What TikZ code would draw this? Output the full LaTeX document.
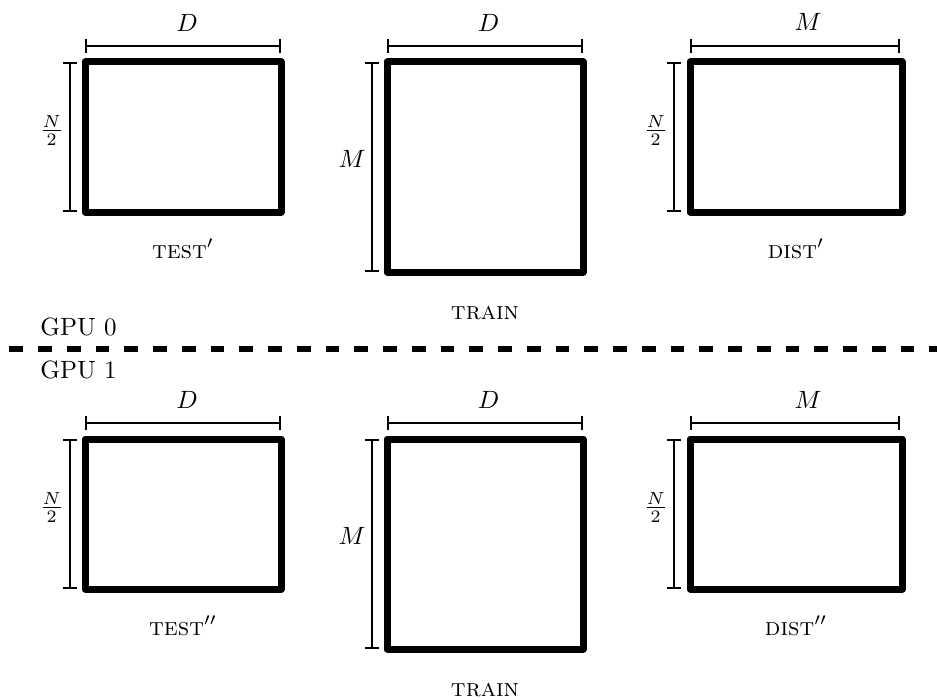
\documentclass[tikz,border=0pt]{standalone}
\usetikzlibrary{arrows.meta,calc}

\tikzset{
  matbox/.style={line width=2.8pt, line join=round},
  dimline/.style={line width=0.8pt, {Bar[width=5.6pt]}-{Bar[width=5.6pt]}},
  toplabel/.style={inner sep=0pt, anchor=base},
  sidelabel/.style={inner sep=0pt, anchor=base east},
  caption/.style={inner sep=0pt, anchor=base},
  gpulabel/.style={inner sep=0pt, anchor=base west},
  divider/.style={line width=2.4pt, dash pattern=on 5.5pt off 6pt},
}

\begin{document}
\begin{tikzpicture}[x=0.4pt,y=-0.4pt]
  \useasboundingbox (0,0) rectangle (937,699);

  % one row of matrices per GPU
  \foreach \r/\dy/\pr in {0/0/{\prime}, 1/377/{\prime\prime}}{
    \begin{scope}[shift={(0,\dy)}]
      % test block: N/2 x D
      \coordinate (test\r-nw) at (85,62);
      \coordinate (test\r-se) at (281,212);
      \draw[matbox] (test\r-nw) rectangle (test\r-se);
      \draw[dimline] ($(test\r-nw)+(0,-16)$) coordinate (test\r-ta)
                  -- ($(test\r-nw -| test\r-se)+(0,-16)$) coordinate (test\r-tb);
      \node[toplabel] (test\r-d) at ($($(test\r-ta)!0.5!(test\r-tb)$)+(4,-14.3)$) {$D$};
      \draw[dimline] ($(test\r-nw)+(-15,0)$) coordinate (test\r-la)
                  -- ($(test\r-nw |- test\r-se)+(-15,0)$) coordinate (test\r-lb);
      \node[sidelabel] (test\r-n) at ($($(test\r-la)!0.5!(test\r-lb)$)+(-6,0)$) {$\frac{N}{2}$};
      \node[caption] (test\r-cap) at ($($(test\r-nw)!0.5!(test\r-se)$)+(0,121)$) {\textsc{test}$^{\pr}$};

      % train block: M x D
      \coordinate (train\r-nw) at (387,62);
      \coordinate (train\r-se) at (583,272);
      \draw[matbox] (train\r-nw) rectangle (train\r-se);
      \draw[dimline] ($(train\r-nw)+(0,-16)$) coordinate (train\r-ta)
                  -- ($(train\r-nw -| train\r-se)+(0,-16)$) coordinate (train\r-tb);
      \node[toplabel] (train\r-d) at ($($(train\r-ta)!0.5!(train\r-tb)$)+(3.5,-14.3)$) {$D$};
      \draw[dimline] ($(train\r-nw)+(-15,0)$) coordinate (train\r-la)
                  -- ($(train\r-nw |- train\r-se)+(-15,0)$) coordinate (train\r-lb);
      \node[sidelabel] (train\r-m) at ($($(train\r-la)!0.5!(train\r-lb)$)+(-6,0)$) {$M$};
      \node[caption] (train\r-cap) at ($($(train\r-nw)!0.5!(train\r-se)$)+(0,152)$) {\textsc{train}};

      % dist block: N/2 x M
      \coordinate (dist\r-nw) at (690,62);
      \coordinate (dist\r-se) at (902,212);
      \draw[matbox] (dist\r-nw) rectangle (dist\r-se);
      \draw[dimline] ($(dist\r-nw)+(0,-16)$) coordinate (dist\r-ta)
                  -- ($(dist\r-nw -| dist\r-se)+(-2,-16)$) coordinate (dist\r-tb);
      \node[toplabel] (dist\r-m) at ($($(dist\r-ta)!0.5!(dist\r-tb)$)+(13,-15)$) {$M$};
      \draw[dimline] ($(dist\r-nw)+(-16,0)$) coordinate (dist\r-la)
                  -- ($(dist\r-nw |- dist\r-se)+(-16,0)$) coordinate (dist\r-lb);
      \node[sidelabel] (dist\r-n) at ($($(dist\r-la)!0.5!(dist\r-lb)$)+(-6,0)$) {$\frac{N}{2}$};
      \node[caption] (dist\r-cap) at ($($(dist\r-nw)!0.5!(dist\r-se)$)+(0,121)$) {\textsc{dist}$^{\pr}$};
    \end{scope}
  }

  % boundary between the two devices
  \coordinate (divL) at (9.3,349);
  \coordinate (divR) at (937,349);
  \draw[divider] (divL) -- (divR);
  \node[gpulabel] (gpu0) at (40,335) {GPU 0};
  \node[gpulabel] (gpu1) at (40,378) {GPU 1};
\end{tikzpicture}
\end{document}
